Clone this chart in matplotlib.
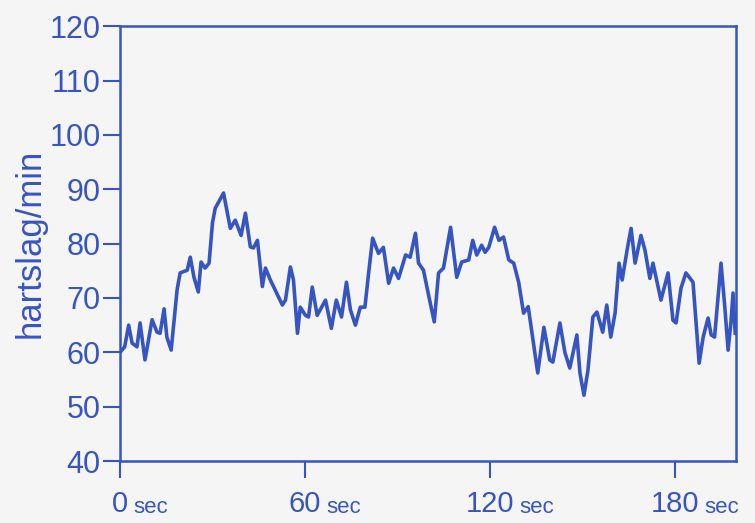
import matplotlib.pyplot as plt

# Hartslag over ruim drie minuten
time_s = [0, 1.5, 2.8, 3.9, 5.5, 6.5, 8.1, 10.4, 12, 13,
          14.3, 15.2, 16.6, 18.5, 19.5, 21.8, 22.8, 24, 25.4, 26.3,
          27.6, 28.9, 30, 30.9, 33.6, 35.8, 37.4, 39.3, 40.7, 42.3,
          43.3, 44.6, 46.2, 47.2, 48.8, 50.4, 52.7, 53.7, 55.3, 56.3,
          57.6, 58.5, 60.2, 61.2, 62.4, 64, 66.7, 68.6, 70.2, 71.9,
          73.5, 74.8, 76.4, 78, 79.5, 80.7, 82, 83.9, 85.5, 87.2,
          88.8, 90.4, 92.7, 94.2, 95.9, 96.9, 98.5, 100.5, 102, 103.4,
          105, 107.3, 109.3, 110.9, 113.2, 114.5, 115.8, 117.4, 118.5, 119.7,
          121.6, 123, 124.5, 126.2, 127.8, 129.4, 131, 132.5, 135.6, 137.6,
          139.5, 140.5, 142.8, 144.4, 146, 148.3, 149.3, 150.6, 151.9, 153.5,
          154.8, 156.7, 158, 159.3, 160.7, 162, 163, 164.6, 165.9, 167.2,
          169.1, 170.4, 172, 173, 175.6, 177.9, 179.5, 180.5, 182.1, 183.7,
          186, 188, 189.3, 190.9, 191.9, 193, 195.1, 196.4, 197.4, 198.3,
          199, 199.7]
bpm = [60, 61, 65, 61.7, 61, 65.4, 58.6, 66, 63.7, 63.5,
       68, 62.8, 60.4, 71.4, 74.6, 75.1, 77.5, 73.8, 71.1, 76.6,
       75.5, 76.4, 83.8, 86.5, 89.3, 82.8, 84.3, 81.5, 85.6, 79.4,
       79.2, 80.6, 72.1, 75.5, 73.3, 71.4, 68.7, 69.6, 75.7, 73.3,
       63.5, 68.3, 66.8, 66.5, 72, 66.8, 69.6, 64.4, 69.6, 66.5,
       72.9, 67.8, 65, 68.3, 68.3, 74.6, 81, 78.2, 79.3, 72.7,
       75.5, 73.6, 77.9, 77.5, 81.9, 76.4, 75.1, 69.6, 65.6, 74.6,
       75.5, 83, 73.8, 76.6, 77, 80.6, 77.9, 79.7, 78.4, 79.3,
       83, 80.6, 81.2, 77, 76.4, 72.9, 67.2, 68.4, 56.2, 64.6,
       58.6, 58.2, 65.4, 60, 57.1, 63.2, 56.2, 52.1, 56.7, 66.5,
       67.4, 63.7, 68.7, 62.8, 67.2, 76.4, 73.3, 78.8, 82.8, 76.4,
       81.5, 78.8, 73.6, 76.4, 69.6, 74.6, 65.9, 65.4, 71.8, 74.6,
       72.9, 58, 62.8, 66.3, 63.2, 62.8, 76.4, 67.8, 60.4, 65.4,
       70.9, 63.5]

y_ticks = [40, 50, 60, 70, 80, 90, 100, 110, 120]
x_ticks = [0, 60, 120, 180]

BLUE = "#3755c0"
BG = "#f5f5f5"

plt.rcParams["font.family"] = ["Liberation Sans", "DejaVu Sans"]

fig = plt.figure(figsize=(7.55, 5.23), dpi=100, facecolor=BG)
ax = fig.add_axes([0.159, 0.1185, 0.816, 0.8315], facecolor=BG)

ax.plot(time_s, bpm, color=BLUE, lw=2.6, solid_joinstyle="round")

ax.set_xlim(0, 200)
ax.set_ylim(40, 120)

for side in ax.spines.values():
    side.set_color(BLUE)
    side.set_linewidth(1.8)

ax.set_yticks(y_ticks)
ax.tick_params(axis="y", direction="out", length=12, width=1.5,
               color=BLUE, labelcolor=BLUE, labelsize=22, pad=2)

# x-as: getal gecentreerd op de tick, kleiner "sec" erachter
ax.set_xticks(x_ticks, labels=[""] * len(x_ticks))
ax.tick_params(axis="x", direction="out", length=12, width=1.5, color=BLUE)
for t in x_ticks:
    num = ax.annotate(str(t), xy=(t, 0), xycoords=("data", "axes fraction"),
                      xytext=(0, -21), textcoords="offset points",
                      ha="center", va="top", fontsize=21, color=BLUE)
    ax.annotate("sec", xy=(1, 0), xycoords=num, xytext=(4, 0),
                textcoords="offset points", ha="left", va="bottom",
                fontsize=16, color=BLUE)

ax.set_ylabel("hartslag/min", fontsize=25, color=BLUE, labelpad=2)

fig.savefig("out.png", dpi=100, facecolor=BG)
